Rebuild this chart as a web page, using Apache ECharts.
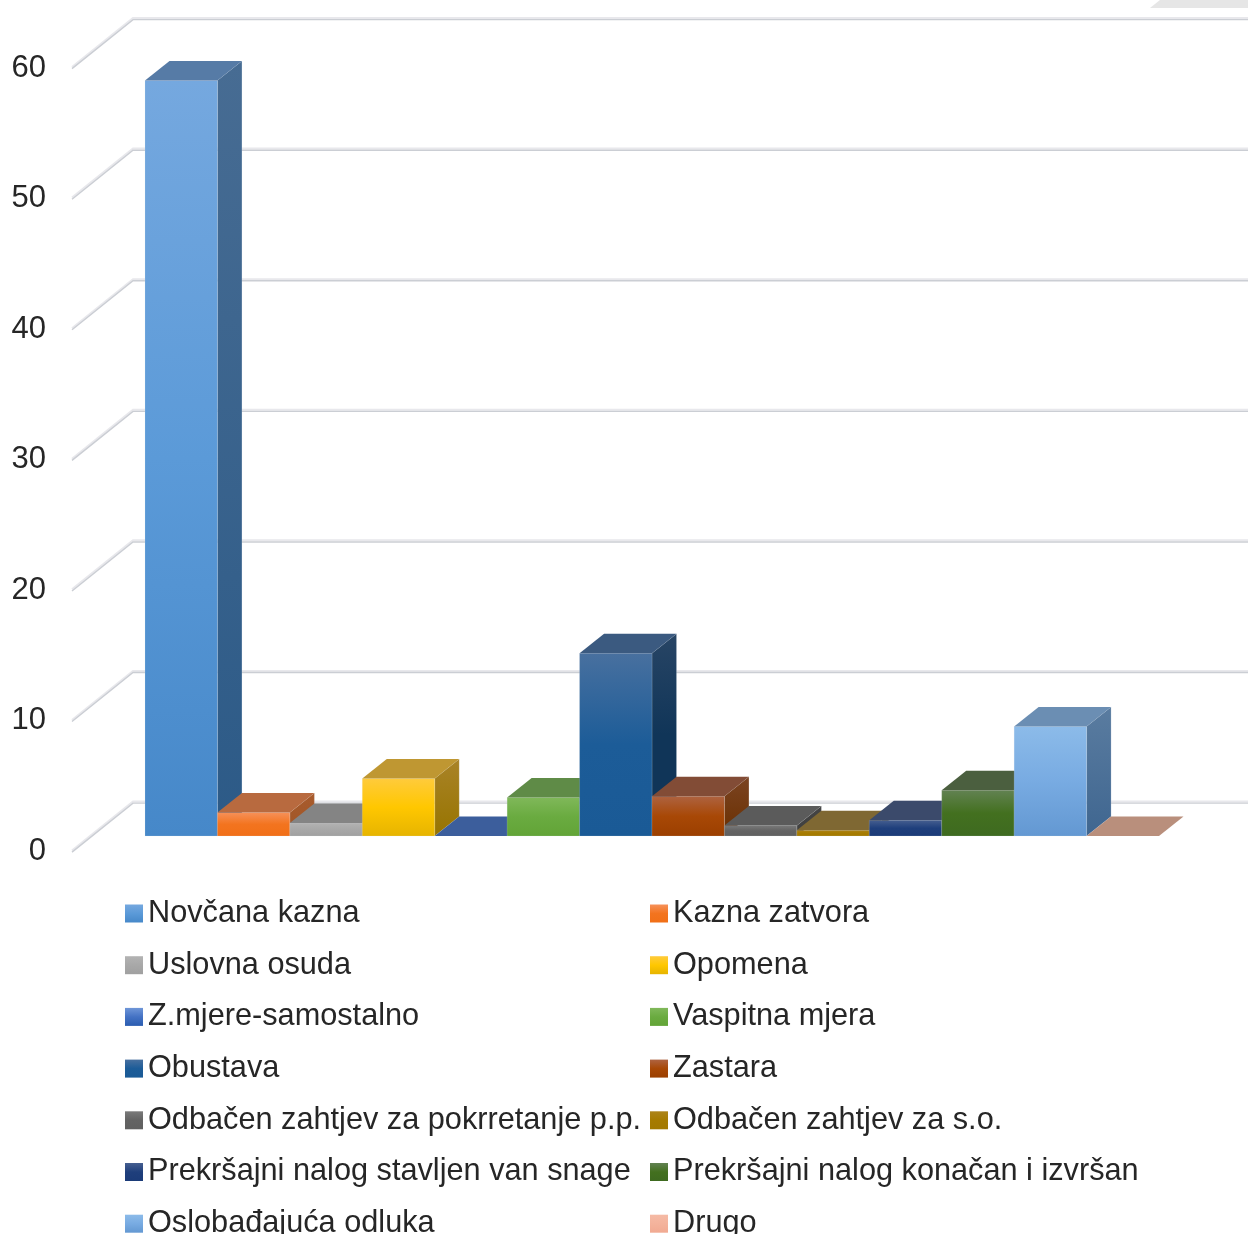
<!DOCTYPE html>
<html>
<head>
<meta charset="utf-8">
<style>html,body{margin:0;padding:0;background:#fff;overflow:hidden}#c{width:1248px;height:1234px}</style>
<script src="https://cdn.jsdelivr.net/npm/echarts@6/dist/echarts.min.js"></script>
</head>
<body>
<div id="c"></div>
<script>
const categories = ["Novčana kazna","Kazna zatvora","Uslovna osuda","Opomena","Z.mjere-samostalno","Vaspitna mjera","Obustava","Zastara","Odbačen zahtjev za pokrretanje p.p.","Odbačen zahtjev za s.o.","Prekršajni nalog stavljen van snage","Prekršajni nalog konačan i izvršan","Oslobađajuća odluka","Drugo"];
const values = [57.9,1.8,1.0,4.4,0,2.95,14.0,3.05,0.8,0.45,1.2,3.5,8.4,0];
const ticks = [0,10,20,30,40,50,60];
const frontColors = [
  ["#75a8df","#5b9ad8","#4688c9"],["#f6915a","#f3741f","#f16f17"],["#b3b3b3","#a8a8a8","#a0a0a0"],["#ffcb3c","#ffc700","#e6b400"],
  ["#6f96d8","#4472c4","#2a5cb0"],["#80b85a","#6aab40","#62a437"],["#48709f","#1c5c98","#1a5a96"],["#ae6341","#a84806","#9b3f00"],
  ["#7a7a7a","#636363","#606060"],["#ac841a","#a67b00","#a27900"],["#465f90","#1f3f7c","#1b3b78"],["#628252","#43701f","#3e6a20"],
  ["#8cbbe9","#78abe2","#6398d2"],["#f5baa5","#f4b39c","#f1aa92"]];
const sideColors = [["#476c93","#2c5a87"],["#a85c2d","#a05425"],["#808080","#787878"],["#a98327","#977400"],["#345a98","#2a4a86"],["#4c7d2c","#457326"],
  ["#284565","#103558","#103558"],["#7b4422","#6a2f00"],["#444444","#404040"],["#6a5010","#604808"],["#23335a","#1c2c50"],["#2f5a1e","#2a501a"],["#5a7ca0","#3f6690"],["#b98f7c","#b98f7c"]];
const topColors = ["#567ba6","#b86a3f","#848484","#bf9732","#3c5e9c","#5f8b47","#3b5a80","#824c36","#5b5b5b","#7f6833","#3b4a6b","#4b5f3f","#6b8eb3","#b98f7c"];

const FONT = "Liberation Sans";
const grad = c => new echarts.graphic.LinearGradient(0,0,0,1,c.map((col,i)=>({offset:i/(c.length-1),color:col})));

function wallItem(params, api){
  const v = api.value(1);
  const p = api.coord([0, v]);
  const dx = 61, dy = 49;
  const right = api.getWidth();
  const pts = [[p[0],p[1]],[p[0]+dx,p[1]-dy],[right,p[1]-dy]];
  const mk = (off,col,w)=>({type:'polyline',shape:{points:pts.map(q=>[q[0],q[1]+off])},style:{stroke:col,lineWidth:w,fill:null}});
  return {type:'group',children:[mk(-1,'#e8e8ec',2),mk(0.6,'#cbced4',1.4)]};
}
function barItem(i){
  return function(params, api){
    const c = api.coord([api.value(0), api.value(1)]);
    const base = api.coord([api.value(0), 0])[1];
    const w = api.size([1,0])[0];
    const x0 = c[0]-w/2, x1 = c[0]+w/2, t = c[1];
    const dx = 24.5, dy = 19.5;
    const ch = [];
    const edge = 'rgba(225,228,235,0.28)';
    if(base-t>0.1){
      ch.push({type:'polygon',shape:{points:[[x1,t],[x1+dx,t-dy],[x1+dx,base-dy],[x1,base]]},style:{fill:grad(sideColors[i]),stroke:edge,lineWidth:0.6}});
      ch.push({type:'rect',shape:{x:x0,y:t,width:w,height:base-t},style:{fill:grad(frontColors[i]),stroke:edge,lineWidth:0.6}});
    }
    ch.push({type:'polygon',shape:{points:[[x0,t],[x1,t],[x1+dx,t-dy],[x0+dx,t-dy]]},style:{fill:topColors[i]}});
    return {type:'group',children:ch};
  };
}
const series = [{
  type:'custom',name:'walls',xAxisIndex:0,yAxisIndex:0,silent:true,clip:false,z:1,
  data:ticks.map(t=>[0,t]),encode:{x:0,y:1},renderItem:wallItem
}];
categories.forEach((name,i)=>{
  series.push({type:'custom',name,xAxisIndex:1,yAxisIndex:1,clip:false,z:2+i,silent:true,
    itemStyle:{color:grad(frontColors[i])},
    data:[[i,values[i]]],encode:{x:0,y:1},renderItem:barItem(i)});
});
const legendBase = {orient:'vertical',top:898,height:420,padding:0,itemWidth:18,itemHeight:18,itemGap:20.7,icon:'rect',selectedMode:false,
  textStyle:{fontFamily:FONT,fontSize:30.7,lineHeight:30,color:'#262626'}};
const option = {
  animation:false,backgroundColor:'#fff',
  grid:[{left:72,right:0,top:68,height:783.5},{left:145,width:1014,top:53,height:783}],
  xAxis:[
    {type:'value',gridIndex:0,min:0,max:1,show:false},
    {type:'category',gridIndex:1,data:categories,show:false,boundaryGap:true}
  ],
  yAxis:[
    {type:'value',gridIndex:0,min:0,max:60,interval:10,axisLine:{show:false},axisTick:{show:false},splitLine:{show:false},
     axisLabel:{margin:26,fontFamily:FONT,fontSize:31,color:'#262626',padding:[4,0,0,0]}},
    {type:'value',gridIndex:1,min:0,max:60,interval:10,show:false,splitLine:{show:false}}
  ],
  legend:[
    Object.assign({left:125,data:categories.filter((_, i)=>i%2===0)},legendBase),
    Object.assign({left:650,data:categories.filter((_, i)=>i%2===1)},legendBase)
  ],
  graphic:[{type:'polygon',shape:{points:[[1150,8],[1160,0],[1248,0],[1248,8]]},style:{fill:'#e6e6e6'},silent:true,z:0}],
  series
};
echarts.init(document.getElementById('c'),null,{renderer:'canvas'}).setOption(option);
</script>
</body>
</html>
